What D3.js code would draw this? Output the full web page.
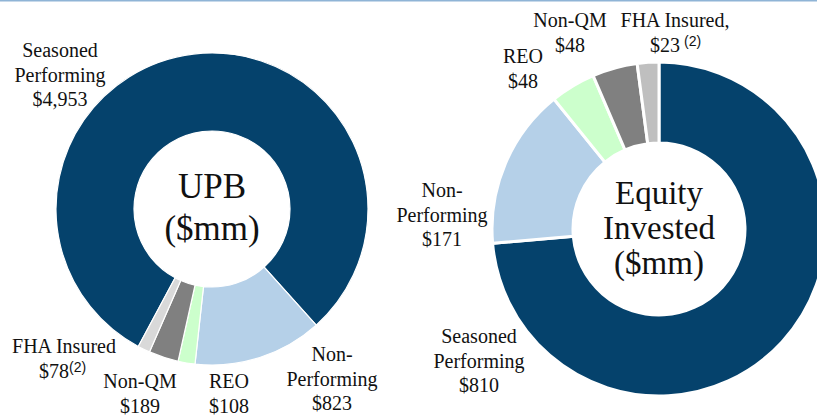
<!DOCTYPE html>
<html><head><meta charset="utf-8">
<script src="https://cdn.jsdelivr.net/npm/d3@7"></script>
<style>
html,body{margin:0;padding:0;background:#fff;overflow:hidden}
text{font-family:"Liberation Serif","Times New Roman",serif;fill:#111}
.sup{font-family:"Liberation Sans",Arial,sans-serif}
</style></head>
<body><svg id="c" width="817" height="416"></svg>
<script>
const upbCategories = ["Seasoned Performing","Non-Performing","REO","Non-QM","FHA Insured"];
const upbValues = [4953, 823, 108, 189, 78];
const upbColors = ["#05426c","#b5d0e8","#ccffcc","#808080","#d9d9d9"];
const upbLabels = [
  {lines:["Seasoned","Performing","$4,953"], x:60, y:57},
  {lines:["Non-","Performing","$823"], x:332, y:361},
  {lines:["REO","$108"], x:229, y:388},
  {lines:["Non-QM","$189"], x:140, y:388},
  {lines:["FHA Insured","$78"], x:64, y:353, sup:"(2)"}
];
const eqCategories = ["Seasoned Performing","Non-Performing","REO","Non-QM","FHA Insured"];
const eqValues = [810, 171, 48, 48, 23];
const eqColors = ["#05426c","#b5d0e8","#ccffcc","#808080","#bfbfbf"];
const eqLabels = [
  {lines:["Seasoned","Performing","$810"], x:479, y:343},
  {lines:["Non-","Performing","$171"], x:442, y:197},
  {lines:["REO","$48"], x:523, y:63},
  {lines:["Non-QM","$48"], x:570, y:27},
  {lines:["FHA Insured,","$23"], x:675, y:27, sup:"(2)", supGap:4}
];

const svg = d3.select("#c");
svg.append("line").attr("x1",0).attr("x2",817).attr("y1",0.5).attr("y2",0.5)
  .attr("stroke","#8fb4d6").attr("stroke-width",2);

function donut(cfg){
  const g = svg.append("g").attr("transform",`translate(${cfg.cx},${cfg.cy})`);
  const pie = d3.pie().sort(null).value(d=>d)
    .startAngle(cfg.start).endAngle(cfg.start + 2*Math.PI);
  const arc = d3.arc().innerRadius(cfg.ri).outerRadius(cfg.ro);
  g.selectAll("path").data(pie(cfg.values)).join("path")
    .attr("d",arc).attr("fill",(d,i)=>cfg.colors[i])
    .attr("stroke","#fff").attr("stroke-width",cfg.sw);
  const ct = g.append("text").attr("text-anchor","middle").style("font-size",cfg.cfs+"px");
  cfg.center.forEach((t,i)=>ct.append("tspan").attr("x",0).attr("y",cfg.cy0 + i*cfg.clh).text(t));
  cfg.labels.forEach(l=>{
    const t = svg.append("text").attr("text-anchor","middle").style("font-size","20px");
    l.lines.forEach((s,i)=>{
      const ts = t.append("tspan").attr("x",l.x).attr("y",l.y+i*24.5).text(s);
    });
    if(l.sup){
      // place superscript after last line
      const last = t.selectAll("tspan").nodes().slice(-1)[0];
      const w = last.getComputedTextLength();
      const supW = 20;
      const shift = -supW/2;
      d3.select(last).attr("x", l.x + shift);
      svg.append("text").attr("class","sup").style("font-size","14px")
        .attr("x", l.x + shift + w/2 + (l.supGap||0)).attr("y", l.y + (l.lines.length-1)*24.5 - 6)
        .text(l.sup);
    }
  });
}

donut({cx:212, cy:209, ro:156, ri:78, sw:1.2, start:208.2*Math.PI/180,
  values:upbValues, colors:upbColors, labels:upbLabels,
  center:["UPB","($mm)"], cfs:35, cy0:-11, clh:42});
donut({cx:659, cy:229, ro:167, ri:86, sw:3, start:0,
  values:eqValues, colors:eqColors, labels:eqLabels,
  center:["Equity","Invested","($mm)"], cfs:33, cy0:-25, clh:35});
</script></body></html>
